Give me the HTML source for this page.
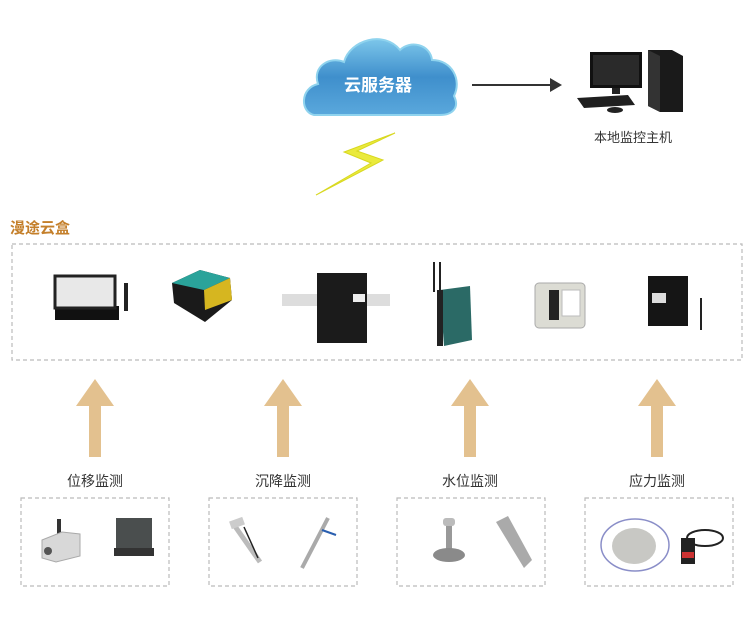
<!DOCTYPE html>
<html><head><meta charset="utf-8">
<style>
html,body{margin:0;padding:0;background:#fff;}
svg{display:block;}
text{font-family:"Liberation Sans","Noto Sans CJK SC",sans-serif;}
</style></head>
<body>
<svg width="750" height="633" viewBox="0 0 750 633" xmlns="http://www.w3.org/2000/svg">
<defs>
<linearGradient id="cl" x1="0" y1="0" x2="0" y2="1">
<stop offset="0" stop-color="#7cc6ea"/><stop offset="0.5" stop-color="#3f8fcc"/><stop offset="1" stop-color="#5aa8dc"/>
</linearGradient>
</defs>
<!-- cloud -->
<g fill="url(#cl)" stroke="#8fd3ee" stroke-width="2">
<path d="M314,115 C300,112 300,88 318,84 C312,66 330,56 344,62 C350,40 384,30 400,50 C410,40 430,44 432,60 C452,60 462,80 454,96 C460,108 452,115 440,115 Z"/>
</g>
<text x="378" y="91" font-size="17" font-weight="bold" fill="#fff" text-anchor="middle">云服务器</text>
<!-- arrow to computer -->
<line x1="472" y1="85" x2="552" y2="85" stroke="#333" stroke-width="2"/>
<polygon points="562,85 550,78 550,92" fill="#333"/>
<!-- computer -->
<rect x="590" y="52" width="52" height="36" fill="#111"/>
<rect x="593" y="55" width="46" height="30" fill="#2a2a2a"/>
<rect x="612" y="88" width="8" height="6" fill="#222"/>
<polygon points="648,50 672,50 683,56 683,112 660,112 648,106" fill="#1a1a1a"/>
<polygon points="648,50 660,56 660,112 648,106" fill="#333"/>
<polygon points="577,98 628,95 635,105 584,108" fill="#1f1f1f"/>
<ellipse cx="615" cy="110" rx="8" ry="3" fill="#222"/>
<text x="633" y="142" font-size="13" fill="#333" text-anchor="middle">本地监控主机</text>
<!-- lightning -->
<polygon points="395,133 344,152 371,163 316,195 383,160 357,151" fill="#eaea3c" stroke="#d8d820" stroke-width="1"/>
<!-- title -->
<text x="10" y="233" font-size="15" font-weight="bold" fill="#c47f2a">漫途云盒</text>
<rect x="12" y="244" width="730" height="116" fill="none" stroke="#bbb" stroke-width="1.2" stroke-dasharray="4,3"/>
<!-- devices -->
<g>
<rect x="55" y="306" width="64" height="14" fill="#111"/>
<rect x="55" y="276" width="60" height="32" fill="#e8e8e8" stroke="#222" stroke-width="3"/>
<rect x="124" y="283" width="4" height="28" fill="#222"/>
<polygon points="172,283 200,270 230,278 232,300 205,322 174,303" fill="#1a1a1a"/>
<polygon points="172,283 200,270 230,278 204,290" fill="#2aa39a"/>
<polygon points="204,290 230,278 232,300 205,310" fill="#d6b620"/>
<rect x="282" y="294" width="108" height="12" fill="#ddd"/>
<rect x="317" y="273" width="50" height="70" fill="#1b1b1b"/>
<rect x="353" y="294" width="12" height="8" fill="#eee"/>
<rect x="433" y="262" width="2" height="30" fill="#222"/>
<rect x="439" y="262" width="2" height="30" fill="#222"/>
<polygon points="440,290 470,286 472,340 444,346" fill="#2b6a66"/>
<rect x="437" y="290" width="6" height="56" fill="#222"/>
<rect x="535" y="283" width="50" height="45" rx="4" fill="#dcdcd4" stroke="#aaa"/>
<rect x="549" y="290" width="10" height="30" fill="#222"/>
<rect x="562" y="290" width="18" height="26" fill="#fff" stroke="#bbb"/>
<rect x="648" y="276" width="40" height="50" fill="#151515"/>
<rect x="652" y="293" width="14" height="10" fill="#ddd"/>
<rect x="700" y="298" width="2" height="32" fill="#222"/>
</g>
<!-- up arrows -->
<g fill="#e3c18f">
<polygon points="95,379 114,406 101,406 101,457 89,457 89,406 76,406"/>
<polygon points="283,379 302,406 289,406 289,457 277,457 277,406 264,406"/>
<polygon points="470,379 489,406 476,406 476,457 464,457 464,406 451,406"/>
<polygon points="657,379 676,406 663,406 663,457 651,457 651,406 638,406"/>
</g>
<g font-size="14" fill="#333" text-anchor="middle">
<text x="95" y="486">位移监测</text>
<text x="283" y="486">沉降监测</text>
<text x="470" y="486">水位监测</text>
<text x="657" y="486">应力监测</text>
</g>
<g fill="none" stroke="#bbb" stroke-width="1.2" stroke-dasharray="4,3">
<rect x="21" y="498" width="148" height="88"/>
<rect x="209" y="498" width="148" height="88"/>
<rect x="397" y="498" width="148" height="88"/>
<rect x="585" y="498" width="148" height="88"/>
</g>
<!-- sensors -->
<g>
<rect x="57" y="519" width="4" height="18" fill="#333"/>
<polygon points="42,540 62,532 80,534 80,556 56,562 42,558" fill="#d8d8d8" stroke="#aaa"/>
<circle cx="48" cy="551" r="4" fill="#555"/>
<rect x="116" y="518" width="36" height="30" fill="#4a4e4e"/>
<rect x="114" y="548" width="40" height="8" fill="#333"/>
<line x1="232" y1="522" x2="260" y2="562" stroke="#bbb" stroke-width="5"/>
<line x1="244" y1="527" x2="258" y2="558" stroke="#222" stroke-width="1.5"/>
<rect x="230" y="519" width="14" height="8" fill="#ccc" transform="rotate(-20 237 523)"/>
<line x1="328" y1="518" x2="302" y2="568" stroke="#aaa" stroke-width="4"/>
<line x1="322" y1="530" x2="336" y2="535" stroke="#2a5fb0" stroke-width="2"/>
<rect x="443" y="518" width="12" height="8" rx="3" fill="#bbb"/>
<rect x="446" y="526" width="6" height="24" fill="#999"/>
<ellipse cx="449" cy="555" rx="16" ry="7" fill="#8a8a8a"/>
<polygon points="496,522 508,516 532,560 524,568" fill="#aaa"/>
<ellipse cx="635" cy="545" rx="34" ry="26" fill="none" stroke="#8a8ec8" stroke-width="1.5"/>
<ellipse cx="634" cy="546" rx="22" ry="18" fill="#c8c8c4"/>
<rect x="681" y="538" width="14" height="26" fill="#222"/>
<rect x="682" y="552" width="12" height="6" fill="#c33"/>
<ellipse cx="705" cy="538" rx="18" ry="8" fill="none" stroke="#222" stroke-width="2"/>
</g>
</svg>
</body></html>
